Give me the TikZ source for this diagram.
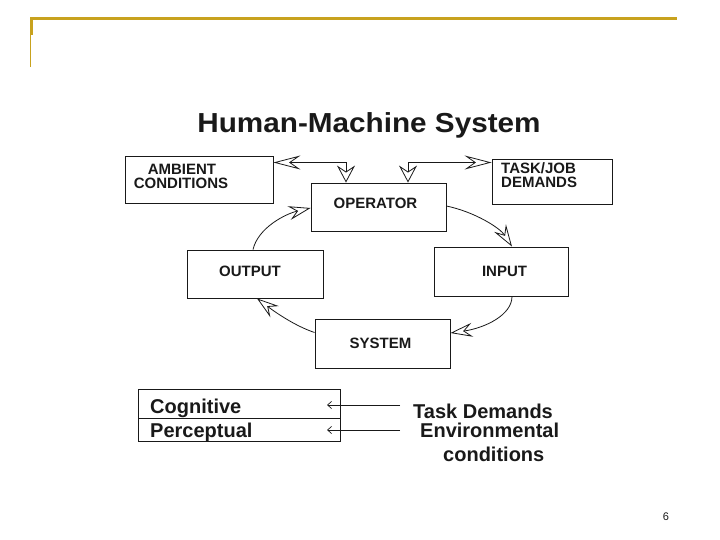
\documentclass[tikz,border=0pt]{standalone}
\usepackage{fontspec}
\setmainfont{Liberation Sans}
\usetikzlibrary{arrows.meta}
\definecolor{gold}{RGB}{200,162,30}
\definecolor{ink}{RGB}{25,25,25}
\begin{document}
\begin{tikzpicture}[x=1pt,y=-1pt,
  box/.style={draw=ink, line width=0.9pt, rectangle, inner sep=0pt},
  lbl/.style={font=\fontsize{15}{15}\selectfont\bfseries, text=ink, inner sep=0pt},
  big/.style={font=\fontsize{20}{20}\selectfont\bfseries, text=ink, inner sep=0pt},
  conn/.style={draw=ink, line width=0.8pt},
  hv/.style={conn, {Stealth[open,length=27pt,width=14pt,inset=10pt]}-{Stealth[open,length=17pt,width=18pt,inset=6pt]}},
  cyc/.style={conn, -{Stealth[open,length=22pt,width=14pt,inset=8pt]}},
  small/.style={draw=ink, line width=0.7pt, -{Straight Barb[length=4pt,width=7pt]}}
]
\useasboundingbox (0,0) rectangle (720,540);

% gold frame
\draw[gold, line width=3pt] (31,35) -- (31,18.5) -- (677,18.5);
\draw[gold, line width=1pt] (30,35) -- (30,67);

% title
\node[inner sep=0pt, text=ink, anchor=base] (title) at (369,133)
  {\scalebox{1.08}[1]{\fontsize{27.5}{30}\selectfont\bfseries Human-Machine System}};

% boxes
\node[box, minimum width=148pt, minimum height=47pt] (amb) at (199,179.5) {};
\node[box, minimum width=135pt, minimum height=48pt] (op) at (378.5,207) {};
\node[box, minimum width=120pt, minimum height=45pt] (task) at (552,181.5) {};
\node[box, minimum width=136pt, minimum height=48pt] (out) at (255,274) {};
\node[box, minimum width=134pt, minimum height=49pt] (inp) at (501,271.5) {};
\node[box, minimum width=135pt, minimum height=49pt] (sys) at (382.5,343.5) {};

% box texts
\node[lbl, anchor=base] (ambA) at (182,175) {AMBIENT};
\node[lbl, anchor=base] (ambC) at (181,188.5) {CONDITIONS};
\node[lbl, anchor=base] (opT) at (375.5,209) {OPERATOR};
\node[lbl, anchor=base west] (taskA) at (501,174) {TASK/JOB};
\node[lbl, anchor=base west] (taskB) at (501,188) {DEMANDS};
\node[lbl, anchor=base] (outT) at (250,276) {OUTPUT};
\node[lbl, anchor=base] (inpT) at (504.5,276) {INPUT};
\node[lbl, anchor=base] (sysT) at (380.5,348) {SYSTEM};

% double arrows to operator
\coordinate (c1) at (346,162.5);
\coordinate (c2) at (408,162.5);
\draw[hv] (amb.east |- c1) -- (c1) -- (c1 |- op.north);
\draw[hv] (task.west |- c2) -- (c2) -- (c2 |- op.north);

% cycle
\draw[cyc] ([xshift=-2pt]out.north) .. controls (258,228) and (285,214) .. ([yshift=-1pt]op.west);
\draw[cyc] ([yshift=1pt]op.east) .. controls (475,212) and (500,228) .. ([xshift=11pt]inp.north);
\draw[cyc] ([xshift=11pt]inp.south) .. controls (512,315) and (485,328) .. ([yshift=10.5pt]sys.east);
\draw[cyc] ([yshift=11pt]sys.west) .. controls (295,326) and (275,312) .. ([xshift=2pt]out.south);

% bottom
\node[box, minimum width=202pt, minimum height=29pt] (cog) at (239,403.5) {};
\node[box, minimum width=202pt, minimum height=23pt] (per) at (239,429.5) {};
\node[big, anchor=base west] (cogT) at (150,413) {Cognitive};
\node[big, anchor=base west] (perT) at (150,437) {Perceptual};
\node[big, anchor=base west] (td) at (413,418) {Task Demands};
\node[big, anchor=base west] (env) at (420,437) {Environmental};
\node[big, anchor=base west] (cond) at (443,461) {conditions};

\coordinate (s1) at (400,405);
\coordinate (e1) at (327,405);
\coordinate (s2) at (400,430);
\coordinate (e2) at (327,430);
\draw[small] (s1) -- (e1);
\draw[small] (s2) -- (e2);

% page number
\node[inner sep=0pt, anchor=base, font=\fontsize{11}{11}\selectfont, text=ink] (pg) at (666,520) {6};
\end{tikzpicture}
\end{document}
